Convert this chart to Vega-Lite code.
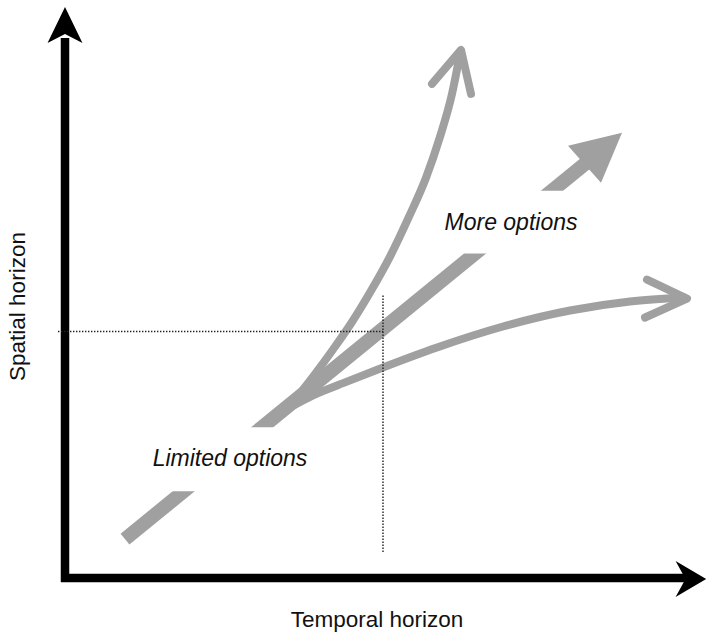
{
  "$schema": "https://vega.github.io/schema/vega-lite/v6.json",
  "width": 707,
  "height": 632,
  "autosize": {"type": "fit", "contains": "padding"},
  "padding": 0,
  "background": "white",
  "config": {"view": {"stroke": null}},
  "datasets": {
    "thick": [{"x": 125, "y": 540}, {"x": 590, "y": 160}],
    "curves": [
      {"c": "up", "o": 1, "x": 288, "y": 410},
      {"c": "up", "o": 2, "x": 301, "y": 393},
      {"c": "up", "o": 3, "x": 317, "y": 372},
      {"c": "up", "o": 4, "x": 333, "y": 350},
      {"c": "up", "o": 5, "x": 351, "y": 324},
      {"c": "up", "o": 6, "x": 370, "y": 293},
      {"c": "up", "o": 7, "x": 390, "y": 257},
      {"c": "up", "o": 8, "x": 409, "y": 217},
      {"c": "up", "o": 9, "x": 426, "y": 178},
      {"c": "up", "o": 10, "x": 440, "y": 137},
      {"c": "up", "o": 11, "x": 452, "y": 94},
      {"c": "up", "o": 12, "x": 460, "y": 54},
      {"c": "low", "o": 1, "x": 292, "y": 407},
      {"c": "low", "o": 2, "x": 313, "y": 396},
      {"c": "low", "o": 3, "x": 345, "y": 383},
      {"c": "low", "o": 4, "x": 383, "y": 368},
      {"c": "low", "o": 5, "x": 437, "y": 348},
      {"c": "low", "o": 6, "x": 503, "y": 327},
      {"c": "low", "o": 7, "x": 570, "y": 311},
      {"c": "low", "o": 8, "x": 630, "y": 302},
      {"c": "low", "o": 9, "x": 684, "y": 298}
    ],
    "barbs": [
      {"b": "up", "o": 1, "x": 432, "y": 84},
      {"b": "up", "o": 2, "x": 461, "y": 50},
      {"b": "up", "o": 3, "x": 471, "y": 94},
      {"b": "low", "o": 1, "x": 647, "y": 280},
      {"b": "low", "o": 2, "x": 687, "y": 299},
      {"b": "low", "o": 3, "x": 645, "y": 318}
    ],
    "bigHead": [{"x": 595, "y": 158}],
    "bands": [
      {"x": 435, "x2": 600, "y": 191, "y2": 254},
      {"x": 100, "x2": 330, "y": 428, "y2": 492}
    ],
    "axes": [
      {"x": 65, "y": 583, "x2": 65, "y2": 38},
      {"x": 61, "y": 579, "x2": 688, "y2": 579}
    ],
    "yHead": [{"x": 65, "y": 25}],
    "xHead": [{"x": 690, "y": 580}],
    "dotted": [
      {"x": 58, "y": 332, "x2": 383, "y2": 332},
      {"x": 383, "y": 296, "x2": 383, "y2": 553}
    ],
    "italicLabels": [
      {"x": 230, "y": 467, "text": "Limited options"},
      {"x": 511, "y": 230, "text": "More options"}
    ],
    "xTitle": [{"x": 377, "y": 628, "text": "Temporal horizon"}],
    "yTitle": [{"x": 25, "y": 307, "text": "Spatial horizon"}]
  },
  "encoding": {
    "x": {"field": "x", "type": "quantitative", "scale": {"domain": [0, 707], "nice": false, "zero": false}, "axis": null},
    "y": {"field": "y", "type": "quantitative", "scale": {"domain": [0, 632], "reverse": true, "nice": false, "zero": false}, "axis": null}
  },
  "layer": [
    {
      "data": {"name": "thick"},
      "mark": {"type": "line", "color": "#a0a0a0", "strokeWidth": 14, "strokeCap": "butt"},
      "encoding": {}
    },
    {
      "data": {"name": "curves"},
      "mark": {"type": "line", "color": "#a0a0a0", "strokeWidth": 8, "strokeCap": "round", "interpolate": "monotone"},
      "encoding": {
        "detail": {"field": "c"},
        "order": {"field": "o", "type": "quantitative"}
      }
    },
    {
      "data": {"name": "barbs"},
      "mark": {"type": "line", "color": "#a0a0a0", "strokeWidth": 8, "strokeCap": "round", "strokeJoin": "round"},
      "encoding": {
        "detail": {"field": "b"},
        "order": {"field": "o", "type": "quantitative"}
      }
    },
    {
      "data": {"name": "bigHead"},
      "mark": {"type": "point", "shape": "M0.9,-0.833L-0.9,-0.4L0.2,0.833Z", "size": 3600, "filled": true, "fill": "#a0a0a0", "opacity": 1, "strokeWidth": 0}
    },
    {
      "data": {"name": "bands"},
      "mark": {"type": "rect", "fill": "white", "strokeWidth": 0},
      "encoding": {
        "x2": {"field": "x2"},
        "y2": {"field": "y2"}
      }
    },
    {
      "data": {"name": "axes"},
      "mark": {"type": "rule", "color": "black", "strokeWidth": 8.5, "strokeCap": "butt"},
      "encoding": {
        "x2": {"field": "x2"},
        "y2": {"field": "y2"}
      }
    },
    {
      "data": {"name": "yHead"},
      "mark": {"type": "point", "shape": "M0,-1L0.97,1L0,0.5L-0.97,1Z", "size": 1296, "filled": true, "fill": "black", "opacity": 1, "strokeWidth": 0}
    },
    {
      "data": {"name": "xHead"},
      "mark": {"type": "point", "shape": "M0.9,0L-0.8,1L-0.25,0L-0.8,-1Z", "size": 1296, "filled": true, "fill": "black", "opacity": 1, "strokeWidth": 0}
    },
    {
      "data": {"name": "dotted"},
      "mark": {"type": "rule", "color": "#222222", "strokeWidth": 1.4, "strokeDash": [1.4, 1.6]},
      "encoding": {
        "x2": {"field": "x2"},
        "y2": {"field": "y2"}
      }
    },
    {
      "data": {"name": "italicLabels"},
      "mark": {"type": "text", "font": "Liberation Sans", "fontSize": 23, "fontStyle": "italic", "color": "#111111", "align": "center", "baseline": "alphabetic"},
      "encoding": {"text": {"field": "text"}}
    },
    {
      "data": {"name": "xTitle"},
      "mark": {"type": "text", "font": "Liberation Sans", "fontSize": 22.5, "color": "#111111", "align": "center", "baseline": "alphabetic"},
      "encoding": {"text": {"field": "text"}}
    },
    {
      "data": {"name": "yTitle"},
      "mark": {"type": "text", "font": "Liberation Sans", "fontSize": 22.5, "color": "#111111", "align": "center", "baseline": "alphabetic", "angle": 270},
      "encoding": {"text": {"field": "text"}}
    }
  ]
}
